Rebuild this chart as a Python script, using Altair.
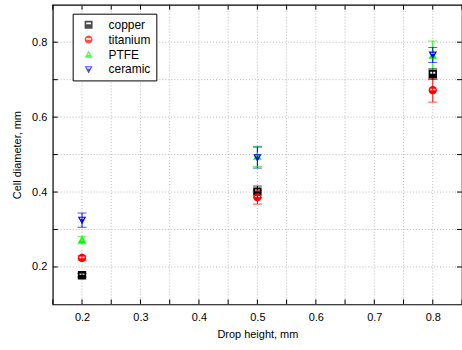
import altair as alt
import pandas as pd

# Drop heights (mm) and measured cell diameters (mm) with their error bars
heights = [0.2, 0.5, 0.8]
materials = ["copper", "titanium", "PTFE", "ceramic"]
copper = [0.178, 0.401, 0.715]
copper_err = [0.005, 0.015, 0.014]
titanium = [0.224, 0.386, 0.672]
titanium_err = [0.006, 0.018, 0.032]
ptfe = [0.272, 0.495, 0.765]
ptfe_err = [0.010, 0.027, 0.038]
ceramic = [0.325, 0.492, 0.766]
ceramic_err = [0.019, 0.028, 0.020]

colors = ["#000000", "#ff0000", "#00ff00", "#0000ff"]

# Half-filled symbols: outline with an opposite-wound hole in the upper part
shapes = [
    "M -1 -1 H 1 V 1 H -1 Z M -0.6 -0.55 V -0.1 H 0.6 V -0.55 Z",
    "M -1 0 A 1 1 0 1 1 1 0 A 1 1 0 1 1 -1 0 Z "
    "M -0.62 -0.35 V 0.05 H 0.62 V -0.35 Z",
    "M 0 -1 L 1 0.8 L -1 0.8 Z M 0 -0.3 L -0.26 0.15 L 0.26 0.15 Z",
    "M -1 -0.8 L 1 -0.8 L 0 1 Z M -0.52 -0.55 L -0.32 -0.2 L 0.32 -0.2 L 0.52 -0.55 Z",
]

# Axis ticks and grid positions
x_ticks = [0.15, 0.2, 0.25, 0.3, 0.35, 0.4, 0.45, 0.5, 0.55, 0.6, 0.65, 0.7, 0.75, 0.8, 0.85]
x_grid = [0.2, 0.25, 0.3, 0.35, 0.4, 0.45, 0.5, 0.55, 0.6, 0.65, 0.7, 0.75, 0.8]
x_labels = [0.2, 0.3, 0.4, 0.5, 0.6, 0.7, 0.8]
y_ticks = [0.2, 0.3, 0.4, 0.5, 0.6, 0.7, 0.8]
y_labels = [0.2, 0.4, 0.6, 0.8]

W, H = 411, 301

rows = []
for name, vals, errs in [
    ("copper", copper, copper_err),
    ("titanium", titanium, titanium_err),
    ("PTFE", ptfe, ptfe_err),
    ("ceramic", ceramic, ceramic_err),
]:
    for h, v, e in zip(heights, vals, errs):
        rows.append({"h": h, "d": v, "lo": v - e, "hi": v + e, "material": name})
df = pd.DataFrame(rows)

xscale = alt.Scale(domain=[0.15, 0.85], nice=False, zero=False)
yscale = alt.Scale(domain=[0.1, 0.9], nice=False, zero=False)
cscale = alt.Scale(domain=materials, range=colors)
sscale = alt.Scale(domain=materials, range=shapes)

x_axis = alt.Axis(
    values=x_labels, format=".1f", grid=False, ticks=False, domain=False,
    title="Drop height, mm", labelPadding=7, titlePadding=6,
)
y_axis = alt.Axis(
    values=y_labels, format=".1f", grid=False, ticks=False, domain=False,
    title="Cell diameter, mm", labelPadding=6, titlePadding=9,
)

xg = pd.DataFrame({"h": x_grid})
xt = pd.DataFrame({"h": x_ticks})
yt = pd.DataFrame({"d": y_ticks})

grid_style = dict(color="#b8b8b8", strokeDash=[1, 2], strokeWidth=1)

vgrid = alt.Chart(xg).mark_rule(**grid_style).encode(
    x=alt.X("h:Q", scale=xscale, axis=x_axis)
)
hgrid = alt.Chart(yt).mark_rule(**grid_style).encode(
    y=alt.Y("d:Q", scale=yscale, axis=y_axis)
)

tick_style = dict(color="black", strokeWidth=1)
bottom_ticks = alt.Chart(xt).mark_rule(**tick_style).encode(
    x=alt.X("h:Q", scale=xscale), y=alt.value(H), y2=alt.value(H - 5)
)
top_ticks = alt.Chart(xt).mark_rule(**tick_style).encode(
    x=alt.X("h:Q", scale=xscale), y=alt.value(0), y2=alt.value(5)
)
left_ticks = alt.Chart(yt).mark_rule(**tick_style).encode(
    y=alt.Y("d:Q", scale=yscale), x=alt.value(0), x2=alt.value(5)
)
right_ticks = alt.Chart(yt).mark_rule(**tick_style).encode(
    y=alt.Y("d:Q", scale=yscale), x=alt.value(W), x2=alt.value(W - 5)
)

legend = alt.Legend(
    title=None, orient="none", legendX=20, legendY=9,
    strokeColor="black", fillColor="white", padding=5,
    symbolSize=64, symbolStrokeWidth=0, symbolOffset=5, labelOffset=14,
    labelFont="Liberation Sans", labelFontSize=12, labelColor="black",
    rowPadding=3, cornerRadius=0,
)
color_enc = alt.Color("material:N", scale=cscale, legend=legend, sort=materials)

base = alt.Chart(df)
err_rule = base.mark_rule(strokeWidth=1).encode(
    x=alt.X("h:Q", scale=xscale),
    y=alt.Y("lo:Q", scale=yscale),
    y2="hi:Q",
    color=color_enc,
)
cap_lo = base.mark_tick(orient="horizontal", size=9, thickness=1).encode(
    x=alt.X("h:Q", scale=xscale),
    y=alt.Y("lo:Q", scale=yscale),
    color=color_enc,
)
cap_hi = base.mark_tick(orient="horizontal", size=9, thickness=1).encode(
    x=alt.X("h:Q", scale=xscale),
    y=alt.Y("hi:Q", scale=yscale),
    color=color_enc,
)
points = base.mark_point(filled=True, size=70, opacity=1, strokeWidth=0).encode(
    x=alt.X("h:Q", scale=xscale),
    y=alt.Y("d:Q", scale=yscale),
    color=color_enc,
    shape=alt.Shape("material:N", scale=sscale, legend=legend, sort=materials),
)

chart = alt.layer(
    vgrid, hgrid, bottom_ticks, top_ticks, left_ticks, right_ticks,
    err_rule, cap_lo, cap_hi, points,
).properties(
    width=W, height=H,
    background="white",
    autosize=alt.AutoSizeParams(type="none"),
    padding={"left": 53, "top": 4, "right": 0, "bottom": 45},
).configure_view(
    stroke="black", strokeWidth=1.2
).configure_axis(
    labelFont="Liberation Sans", labelFontSize=11, labelColor="black",
    titleFont="Liberation Sans", titleFontSize=11, titleFontWeight="normal",
    titleColor="black",
)

chart.save("out.html", embed_options={"renderer": "svg", "actions": False})
